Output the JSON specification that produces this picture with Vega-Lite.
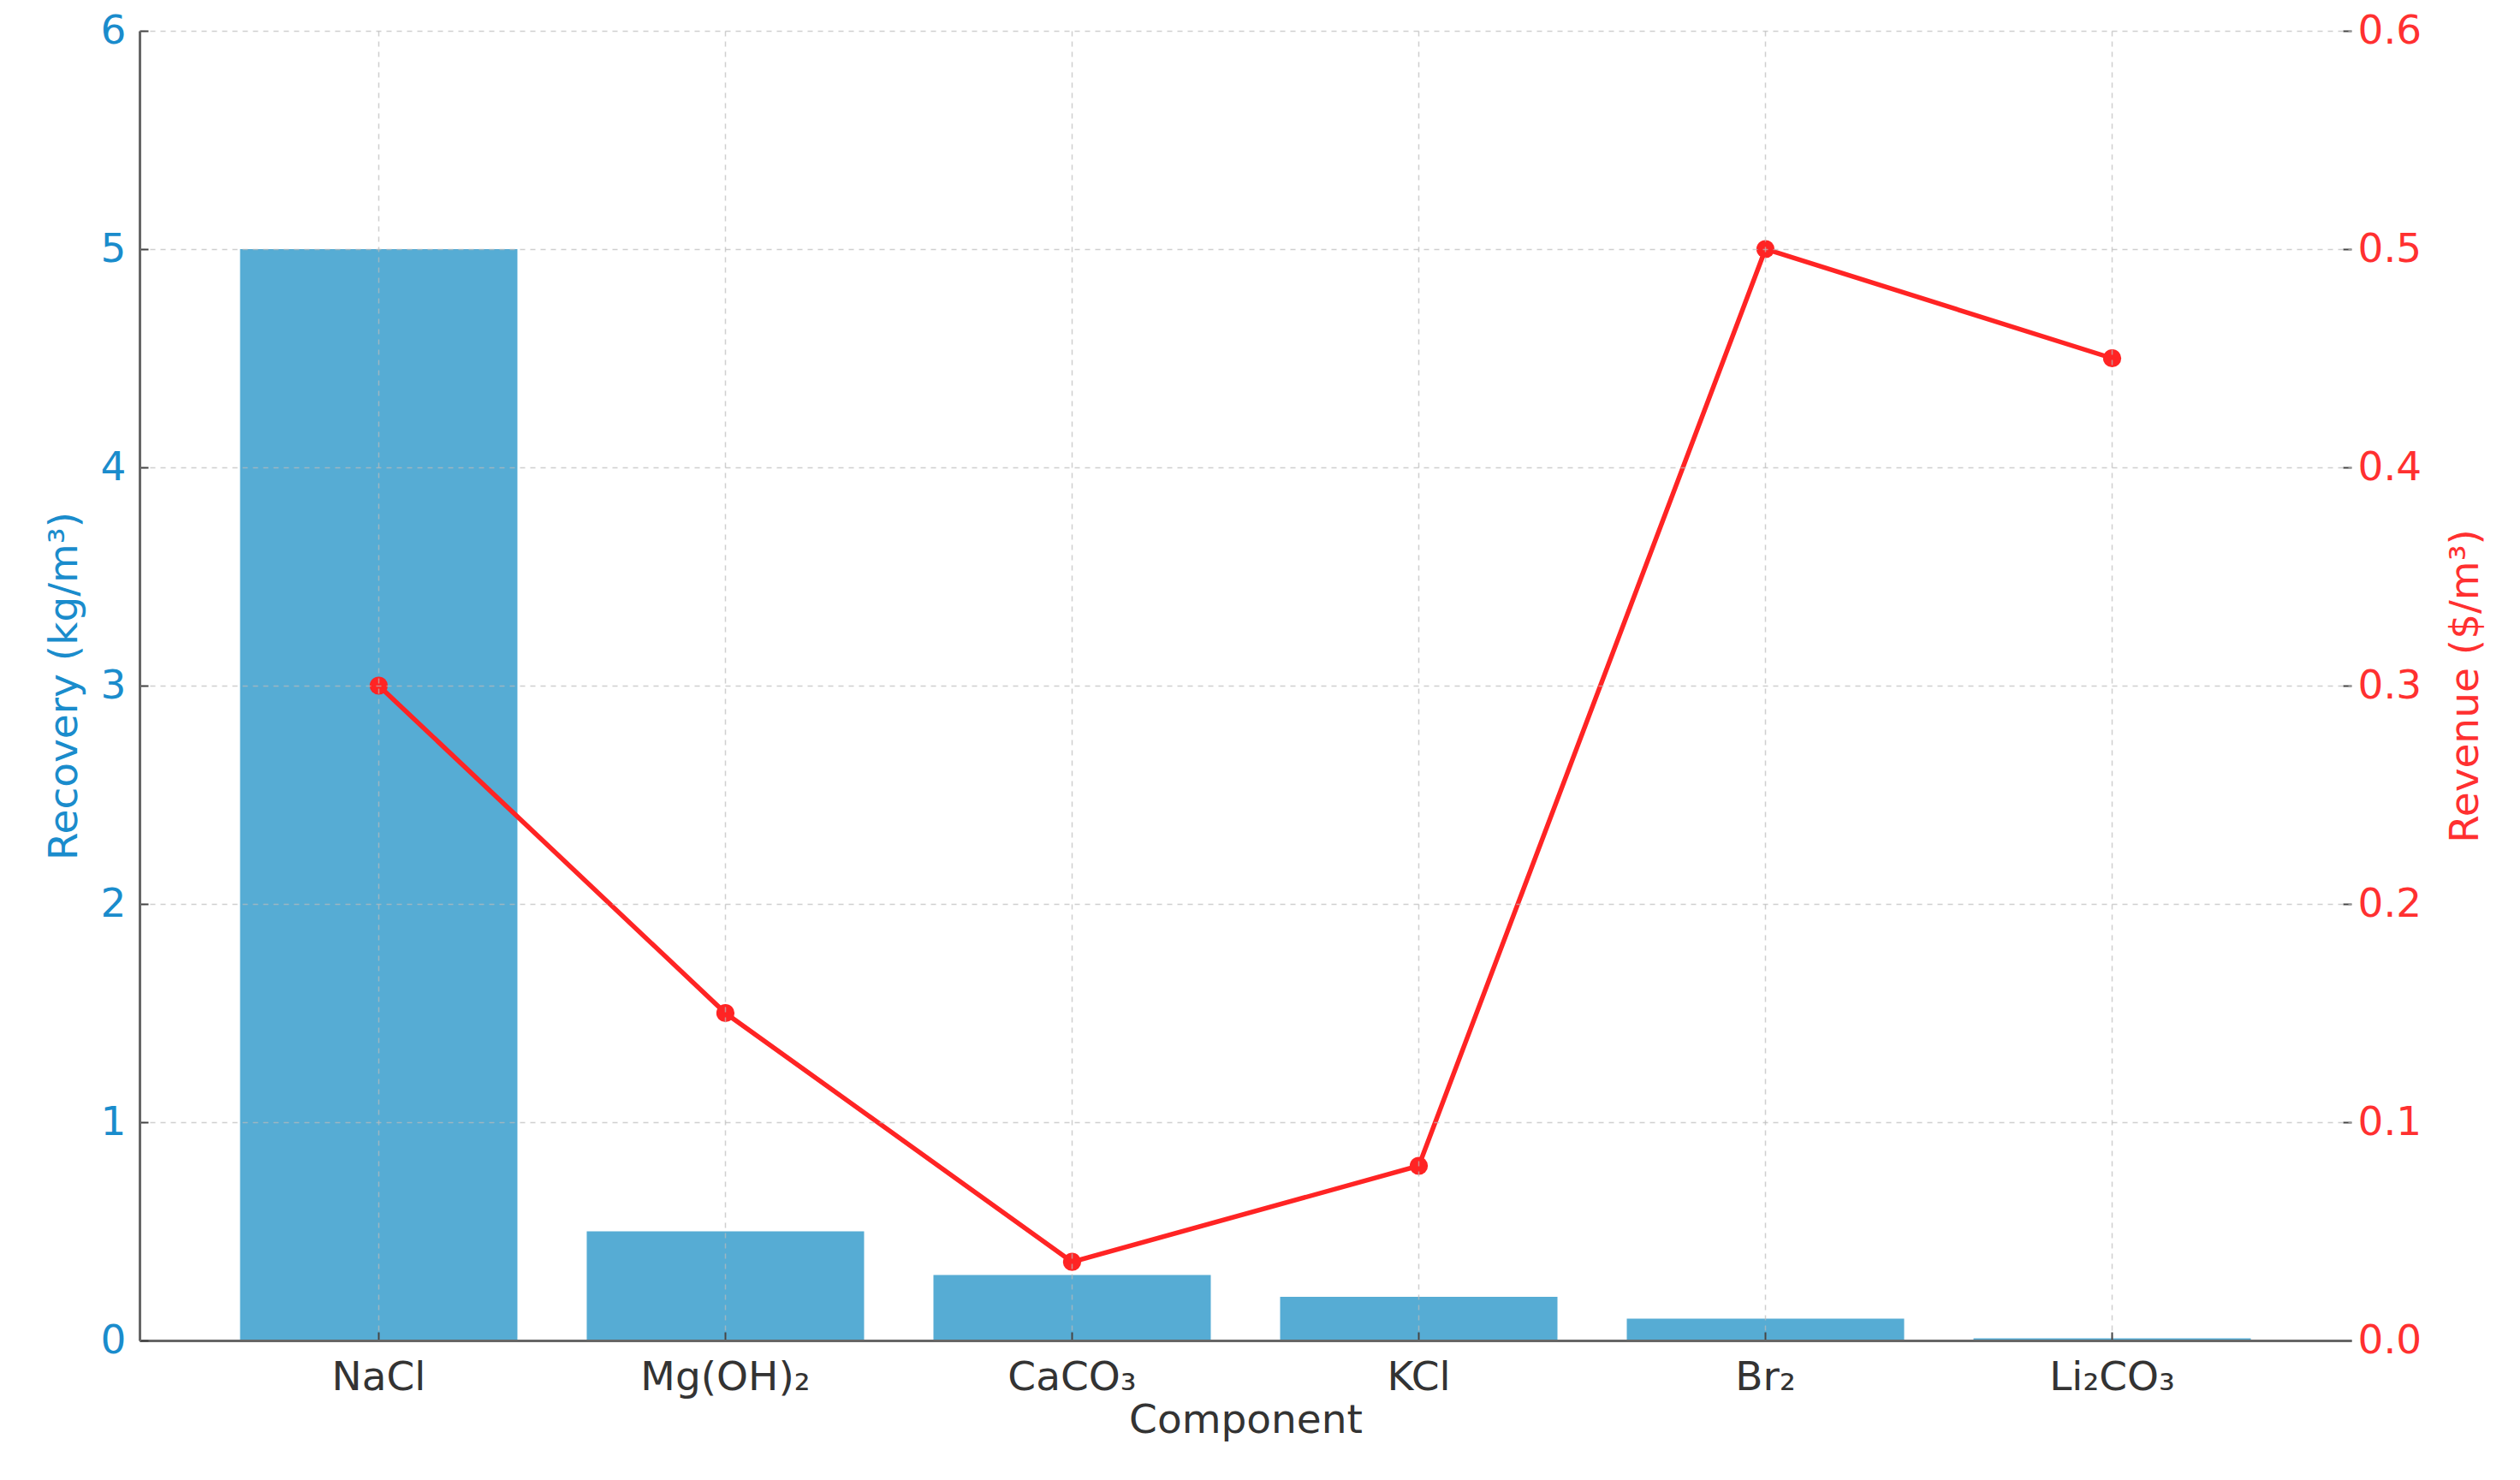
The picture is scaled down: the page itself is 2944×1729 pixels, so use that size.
{
  "$schema": "https://vega.github.io/schema/vega-lite/v6.json",
  "autosize": "none",
  "width": 2584,
  "height": 1530,
  "padding": {"left": 163, "top": 36, "right": 197, "bottom": 163},
  "background": "white",
  "config": {
    "font": "DejaVu Sans",
    "view": {"stroke": null},
    "axis": {
      "labelFont": "DejaVu Sans",
      "titleFont": "DejaVu Sans",
      "labelFontSize": 47,
      "titleFontSize": 47,
      "titleFontWeight": "normal",
      "labelLimit": 0,
      "domainColor": "#666666",
      "domainWidth": 3,
      "tickColor": "#444444",
      "tickWidth": 2,
      "tickSize": -10,
      "gridColor": "#bbbbbb",
      "gridDash": [6, 6],
      "gridWidth": 1.5,
      "gridOpacity": 0.7
    }
  },
  "data": {
    "values": [
      {"Component": "NaCl", "Recovery": 5.0, "Revenue": 0.3},
      {"Component": "Mg(OH)₂", "Recovery": 0.5, "Revenue": 0.15},
      {"Component": "CaCO₃", "Recovery": 0.3, "Revenue": 0.036},
      {"Component": "KCl", "Recovery": 0.2, "Revenue": 0.08},
      {"Component": "Br₂", "Recovery": 0.1, "Revenue": 0.5},
      {"Component": "Li₂CO₃", "Recovery": 0.01, "Revenue": 0.45}
    ]
  },
  "encoding": {
    "x": {
      "field": "Component",
      "type": "nominal",
      "sort": null,
      "scale": {"paddingInner": 0.2, "paddingOuter": 0.29},
      "axis": {
        "title": "Component",
        "labelAngle": 0,
        "labelColor": "#333333",
        "titleColor": "#333333",
        "labelPadding": 30,
        "titlePadding": 4,
        "grid": true,
        "bandPosition": 0.5,
        "zindex": 1
      }
    }
  },
  "layer": [
    {
      "mark": {"type": "bar", "color": "#56acd4"},
      "encoding": {
        "y": {
          "field": "Recovery",
          "type": "quantitative",
          "scale": {"domain": [0, 6], "nice": false},
          "axis": {
            "title": "Recovery (kg/m³)",
            "orient": "left",
            "values": [0, 1, 2, 3, 4, 5, 6],
            "labelColor": "#1a8ccc",
            "titleColor": "#1a8ccc",
            "labelPadding": 26,
            "titlePadding": 18,
            "grid": true,
            "zindex": 1
          }
        }
      }
    },
    {
      "mark": {"type": "line", "color": "#ff2424", "strokeWidth": 5.5},
      "encoding": {
        "y": {
          "field": "Revenue",
          "type": "quantitative",
          "scale": {"domain": [0, 0.6], "nice": false},
          "axis": {
            "title": "Revenue ($/m³)",
            "orient": "right",
            "values": [0, 0.1, 0.2, 0.3, 0.4, 0.5, 0.6],
            "format": ".1f",
            "labelColor": "#ff3030",
            "titleColor": "#ff3030",
            "titleAngle": 270,
            "labelPadding": 17,
            "titlePadding": 76,
            "domain": false,
            "grid": false
          }
        }
      }
    },
    {
      "mark": {"type": "point", "filled": true, "color": "#ff2424", "size": 450, "opacity": 1},
      "encoding": {
        "y": {"field": "Revenue", "type": "quantitative", "scale": {"domain": [0, 0.6], "nice": false}, "axis": null}
      }
    }
  ],
  "resolve": {"scale": {"y": "independent"}}
}
